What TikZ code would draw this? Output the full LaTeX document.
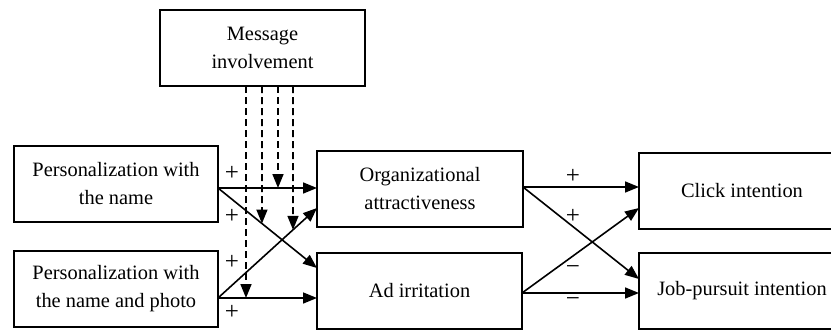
\documentclass[tikz,border=0pt]{standalone}
\usepackage{fontspec}
\setmainfont{Liberation Serif}
\usetikzlibrary{arrows.meta,calc}
\begin{document}
\begin{tikzpicture}[x=1pt,y=-1pt,
  box/.style={draw,line width=1.5pt,minimum width=205pt,minimum height=76pt,inner sep=0pt,outer sep=0pt,anchor=north west,
    font=\fontsize{20.4pt}{28pt}\selectfont,align=center},
  arr/.style={line width=1.6pt,-{Triangle[length=14pt,width=11pt]}},
  darr/.style={arr,dash pattern=on 7pt off 4pt},
  sign/.style={font=\fontsize{25pt}{28pt}\selectfont,inner sep=0pt}
]
\useasboundingbox (0,0) rectangle (831,330);
\clip (0,0) rectangle (831,330);

\node[box] (msg) at (160,10) {Message\\involvement};
\node[box,minimum width=204pt] (p1) at (14,146) {Personalization with\\the name};
\node[box,minimum width=204pt] (p2) at (14,251) {Personalization with\\the name and photo};
\node[box,minimum width=206pt] (org) at (317,151) {Organizational\\attractiveness};
\node[box] (ad) at (317,253) {Ad irritation};
\node[box,minimum width=206pt] (click) at (639,153) {Click intention};
\node[box,minimum width=206pt] (job) at (639,253) {Job-pursuit intention};

% connection points
\coordinate (p1o) at ($(p1.east)+(0,4)$);
\coordinate (p2o) at ($(p2.east)+(0,9)$);
\coordinate (orgi2) at ($(org.west)+(0,19)$);
\coordinate (adi1) at ($(ad.west)+(0,-23)$);
\coordinate (orgo) at ($(org.east)+(0,-2)$);
\coordinate (ado) at ($(ad.east)+(0,2)$);
\coordinate (clicki2) at ($(click.west)+(0,17)$);
\coordinate (jobi1) at ($(job.west)+(0,-12)$);

% left arrows
\draw[arr] (p1o) -- (p1o -| org.west);
\draw[arr] (p1o) -- (adi1);
\draw[arr] (p2o) -- (orgi2);
\draw[arr] (p2o) -- (p2o -| ad.west);

% right arrows
\draw[arr] (orgo) -- (orgo -| click.west);
\draw[arr] (orgo) -- (jobi1);
\draw[arr] (ado) -- (clicki2);
\draw[arr] (ado) -- (ado -| job.west);

% moderation (dashed)
\coordinate (d1) at ($(msg.south west)+(86,0)$);
\coordinate (d2) at ($(msg.south west)+(102,0)$);
\coordinate (d3) at ($(msg.south west)+(118,0)$);
\coordinate (d4) at ($(msg.south west)+(133,0)$);
\draw[darr] (d1) -- (d1 |- p2o);
\draw[darr] (d2) -- ($(p1o)!0.444!(adi1)$);
\draw[darr] (d3) -- (d3 |- p1o);
\draw[darr] (d4) -- ($(p2o)!0.7576!(orgi2)$);

% signs
\node[sign] (s1) at (232,173) {+};
\node[sign] (s2) at (232,216) {+};
\node[sign] (s3) at (232,262) {+};
\node[sign] (s4) at (232,312) {+};
\node[sign] (s5) at (573,176) {+};
\node[sign] (s6) at (573,216) {+};
\node[sign] (s7) at (573,270) {−};
\node[sign] (s8) at (573,302) {−};
\end{tikzpicture}
\end{document}
